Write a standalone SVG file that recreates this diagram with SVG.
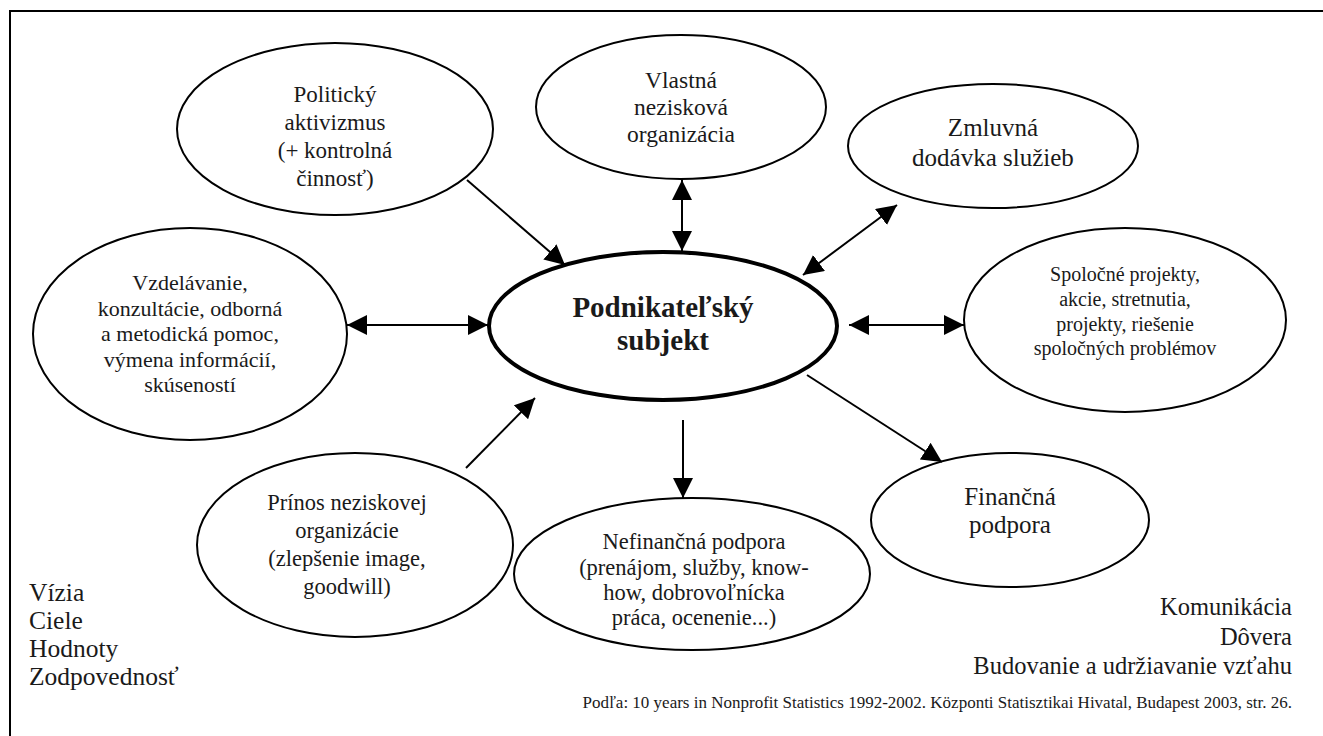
<svg xmlns="http://www.w3.org/2000/svg" width="1323" height="736" viewBox="0 0 1323 736">
<style>
text{font-family:"Liberation Serif","Times New Roman",serif;fill:#1a1a1a;}
.n{fill:#fff;stroke:#000;stroke-width:2;}
.c{fill:#fff;stroke:#000;stroke-width:4;}
.t{text-anchor:middle;}
.a{stroke:#000;stroke-width:2;fill:none;}
</style>
<defs>
<marker id="h" viewBox="0 0 20 20" refX="20" refY="10" markerWidth="20" markerHeight="20" markerUnits="userSpaceOnUse" orient="auto-start-reverse">
<path d="M0,0 L20,10 L0,20 z" fill="#000"/>
</marker>
</defs>
<rect width="1323" height="736" fill="#fff"/>
<path d="M10,736 V11 H1323" fill="none" stroke="#000" stroke-width="2"/>

<g id="politicky">
<ellipse class="n" cx="335" cy="129" rx="158" ry="86"/>
<text class="t" font-size="23"><tspan x="335" y="102">Politický</tspan><tspan x="335" y="130">aktivizmus</tspan><tspan x="335" y="158">(+ kontrolná</tspan><tspan x="335" y="186">činnosť)</tspan></text>
</g>
<g id="vlastna">
<ellipse class="n" cx="681" cy="107" rx="145" ry="72"/>
<text class="t" font-size="23.5"><tspan x="681" y="88">Vlastná</tspan><tspan x="681" y="115">nezisková</tspan><tspan x="681" y="142">organizácia</tspan></text>
</g>
<g id="zmluvna">
<ellipse class="n" cx="993" cy="146" rx="145" ry="62"/>
<text class="t" font-size="25"><tspan x="993" y="136">Zmluvná</tspan><tspan x="993" y="166">dodávka služieb</tspan></text>
</g>
<g id="vzdelavanie">
<ellipse class="n" cx="190" cy="334" rx="157" ry="106"/>
<text class="t" font-size="22"><tspan x="190" y="290">Vzdelávanie,</tspan><tspan x="190" y="316">konzultácie, odborná</tspan><tspan x="190" y="341">a metodická pomoc,</tspan><tspan x="190" y="367">výmena informácií,</tspan><tspan x="190" y="392">skúseností</tspan></text>
</g>
<g id="spolocne">
<ellipse class="n" cx="1125" cy="320" rx="161" ry="92"/>
<text class="t" font-size="20"><tspan x="1125" y="281">Spoločné projekty,</tspan><tspan x="1125" y="306">akcie, stretnutia,</tspan><tspan x="1125" y="331">projekty, riešenie</tspan><tspan x="1125" y="355">spoločných  problémov</tspan></text>
</g>
<g id="podnikatelsky">
<ellipse class="c" cx="663" cy="326" rx="174" ry="74"/>
<text class="t" font-size="29" font-weight="bold"><tspan x="663" y="317">Podnikateľský</tspan><tspan x="663" y="350">subjekt</tspan></text>
</g>
<g id="prinos">
<ellipse class="n" cx="355" cy="545" rx="158" ry="92"/>
<text class="t" font-size="22.5"><tspan x="347" y="510">Prínos neziskovej</tspan><tspan x="347" y="538">organizácie</tspan><tspan x="347" y="566">(zlepšenie image,</tspan><tspan x="347" y="594">goodwill)</tspan></text>
</g>
<g id="nefinancna">
<ellipse class="n" cx="692" cy="574" rx="178" ry="76"/>
<text class="t" font-size="22.5"><tspan x="694" y="549">Nefinančná podpora</tspan><tspan x="694" y="575">(prenájom, služby, know-</tspan><tspan x="694" y="600">how, dobrovoľnícka</tspan><tspan x="694" y="625">práca, ocenenie...)</tspan></text>
</g>
<g id="financna">
<ellipse class="n" cx="1010" cy="520" rx="139" ry="67"/>
<text class="t" font-size="25"><tspan x="1010" y="505">Finančná</tspan><tspan x="1010" y="533">podpora</tspan></text>
</g>

<g id="connectors">
<line class="a" x1="467" y1="180" x2="565" y2="265" marker-end="url(#h)"/>
<line class="a" x1="682" y1="180" x2="682" y2="251" marker-start="url(#h)" marker-end="url(#h)"/>
<line class="a" x1="897" y1="205" x2="803" y2="275" marker-start="url(#h)" marker-end="url(#h)"/>
<line class="a" x1="347" y1="325" x2="488" y2="325" marker-start="url(#h)" marker-end="url(#h)"/>
<line class="a" x1="849" y1="325" x2="964" y2="325" marker-start="url(#h)" marker-end="url(#h)"/>
<line class="a" x1="466" y1="468" x2="535" y2="398" marker-end="url(#h)"/>
<line class="a" x1="683" y1="420" x2="683" y2="498" marker-end="url(#h)"/>
<line class="a" x1="807" y1="375" x2="942" y2="462" marker-end="url(#h)"/>
</g>

<g id="left-notes" font-size="25.5">
<text x="29" y="601">Vízia</text>
<text x="29" y="629">Ciele</text>
<text x="29" y="657">Hodnoty</text>
<text x="29" y="685">Zodpovednosť</text>
</g>
<g id="right-notes" font-size="24.5" text-anchor="end">
<text x="1292" y="615">Komunikácia</text>
<text x="1292" y="645">Dôvera</text>
<text x="1292" y="674">Budovanie a udržiavanie vzťahu</text>
</g>
<text x="1292" y="708" font-size="17" text-anchor="end">Podľa: 10 years in Nonprofit Statistics 1992-2002. Központi Statisztikai Hivatal, Budapest 2003, str. 26.</text>
</svg>
